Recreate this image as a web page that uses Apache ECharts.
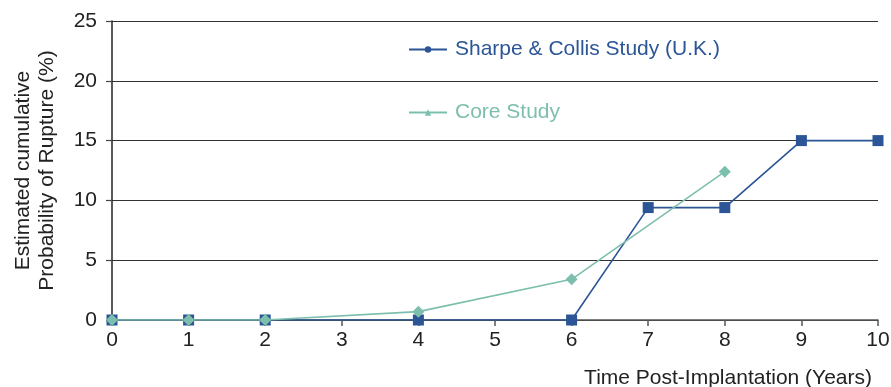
<!DOCTYPE html>
<html><head><meta charset="utf-8">
<script src="https://cdn.jsdelivr.net/npm/echarts@6/dist/echarts.min.js"></script>
<style>html,body{margin:0;padding:0;background:#fff}#c{width:891px;height:387px}</style>
</head><body><div id="c"></div>
<script>
const ukYears = [0, 1, 2, 4, 6, 7, 8, 9, 10];
const ukValues = [0, 0, 0, 0, 0, 9.4, 9.4, 15, 15];
const coreYears = [0, 1, 2, 4, 6, 8];
const coreValues = [0, 0, 0, 0.7, 3.4, 12.4];
const yTicks = [0, 5, 10, 15, 20, 25];
const ukName = 'Sharpe & Collis Study (U.K.)';
const coreName = 'Core Study';
const ukColor = '#2b5596';
const coreColor = '#7cbfac';
const font = 'Liberation Sans, Arial, sans-serif';
const fs = 21;

const chart = echarts.init(document.getElementById('c'));
chart.setOption({
  animation: false,
  grid: {left: 112, right: 13, top: 21, bottom: 67, outerBoundsMode: 'none', containLabel: false},
  legend: [
    {data: [ukName], left: 403, top: 34, itemWidth: 38, itemHeight: 8, itemGap: 0,
     textStyle: {color: ukColor, fontSize: fs, fontFamily: font, padding: [0,0,0,3]}},
    {data: [coreName], left: 403, top: 97, itemWidth: 38, itemHeight: 8, itemGap: 0,
     textStyle: {color: coreColor, fontSize: fs, fontFamily: font, padding: [0,0,0,3]}}
  ],
  xAxis: {
    type: 'value', min: 0, max: 10, interval: 1,
    name: 'Time Post-Implantation (Years)', nameLocation: 'end',
    nameGap: 0,
    nameTextStyle: {fontSize: fs, fontFamily: font, color: '#222', align: 'right', verticalAlign: 'top', padding: [48, 6, 0, 0]},
    axisLine: {lineStyle: {color: '#555', width: 1.5}},
    axisTick: {show: true, length: 6, lineStyle: {color: '#555', width: 1.5}},
    axisLabel: {fontSize: fs, fontFamily: font, color: '#222', margin: 10},
    splitLine: {show: false}
  },
  yAxis: {
    type: 'value', min: yTicks[0], max: yTicks[yTicks.length - 1], interval: 5,
    name: 'Estimated cumulative\nProbability of Rupture (%)', nameLocation: 'middle',
    nameGap: 53, nameRotate: 90,
    nameTextStyle: {fontSize: fs, fontFamily: font, color: '#222', lineHeight: 24},
    axisLine: {show: true, lineStyle: {color: '#222', width: 1.5}},
    axisTick: {show: true, length: 6, lineStyle: {color: '#444', width: 1.2}},
    axisLabel: {fontSize: fs, fontFamily: font, color: '#222', margin: 15},
    splitLine: {show: true, lineStyle: {color: '#333', width: 1.2}}
  },
  series: [
    {
      name: ukName, type: 'line', symbol: 'circle', symbolSize: 11,
      color: ukColor,
      lineStyle: {color: ukColor, width: 1.6},
      itemStyle: {color: ukColor},
      data: ukYears.map((x, i) => ({value: [x, ukValues[i]], symbol: 'rect'})),
      z: 3
    },
    {
      name: coreName, type: 'line', symbol: 'triangle', symbolSize: 12,
      color: coreColor,
      lineStyle: {color: coreColor, width: 1.6},
      itemStyle: {color: coreColor},
      data: coreYears.map((x, i) => ({value: [x, coreValues[i]], symbol: 'diamond'})),
      z: 4
    }
  ]
});
</script></body></html>
